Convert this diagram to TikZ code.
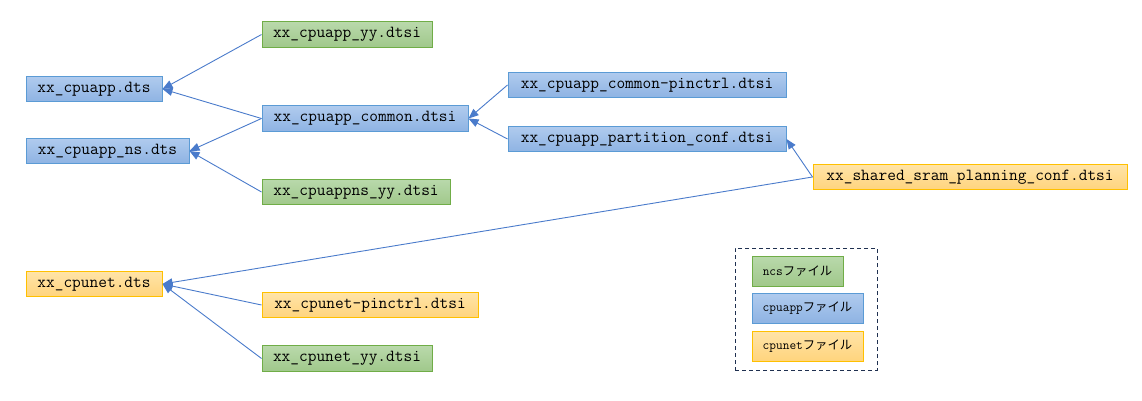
\documentclass[tikz,border=0pt]{standalone}
\usepackage{fontspec}
\newfontfamily\jpfont{Noto Sans CJK JP}[Scale=0.95]
\usetikzlibrary{arrows.meta}
\definecolor{bluebd}{HTML}{5B9BD5}
\definecolor{bluetop}{HTML}{B0CBEE}
\definecolor{bluebot}{HTML}{8EB3E3}
\definecolor{greenbd}{HTML}{70AD47}
\definecolor{greentop}{HTML}{B9D9AB}
\definecolor{greenbot}{HTML}{A0C88B}
\definecolor{yellbd}{HTML}{FFC000}
\definecolor{yelltop}{HTML}{FFE4A8}
\definecolor{yellbot}{HTML}{FFD47D}
\definecolor{linec}{HTML}{4A7BCB}
\definecolor{dashc}{HTML}{1F3050}
\tikzset{
  filebox/.style={draw, line width=1pt, minimum height=25.5pt, inner sep=0pt,
    font=\fontsize{16.9}{18}\selectfont\ttfamily, text=black},
  appbox/.style={filebox, draw=bluebd, top color=bluetop, bottom color=bluebot},
  ncsbox/.style={filebox, draw=greenbd, top color=greentop, bottom color=greenbot},
  netbox/.style={filebox, draw=yellbd, top color=yelltop, bottom color=yellbot},
  legbox/.style={minimum height=30pt, font=\fontsize{13}{14}\selectfont\ttfamily},
  arr/.style={draw=linec, line width=0.9pt, -{Triangle[length=10pt,width=8pt]}},
}
\begin{document}
\begin{tikzpicture}[x=1pt,y=-1pt]
\useasboundingbox (0,0) rectangle (1142,401);
% left column
\node[appbox, minimum width=136pt] (cpuapp) at (94,89) {xx\_cpuapp.dts};
\node[appbox, minimum width=163pt] (cpuappns) at (107.5,151) {xx\_cpuapp\_ns.dts};
\node[netbox, minimum width=136pt] (cpunet) at (94,284) {xx\_cpunet.dts};
% middle column
\node[ncsbox, minimum width=170pt] (appyy) at (347,34.5) {xx\_cpuapp\_yy.dtsi};
\node[appbox, minimum width=206pt] (common) at (365,118.5) {xx\_cpuapp\_common.dtsi};
\node[ncsbox, minimum width=188pt] (appnsyy) at (356,192) {xx\_cpuappns\_yy.dtsi};
\node[netbox, minimum width=216pt] (netpin) at (370,305) {xx\_cpunet-pinctrl.dtsi};
\node[ncsbox, minimum width=170pt] (netyy) at (347,358.5) {xx\_cpunet\_yy.dtsi};
% right column
\node[appbox, minimum width=278pt] (pinctrl) at (647,85) {xx\_cpuapp\_common-pinctrl.dtsi};
\node[appbox, minimum width=278pt] (partition) at (647,139) {xx\_cpuapp\_partition\_conf.dtsi};
\node[netbox, minimum width=314pt] (shared) at (970,177) {xx\_shared\_sram\_planning\_conf.dtsi};
% legend
\node[draw=dashc, line width=1pt, dash pattern=on 4pt off 3pt, minimum width=142pt, minimum height=122pt, inner sep=0pt] (legend) at (806,309) {};
\node[ncsbox, legbox, minimum width=91pt] (lgncs) at (797.5,271) {ncs{\jpfont ファイル}};
\node[appbox, legbox, minimum width=111pt] (lgapp) at (807.5,308) {cpuapp{\jpfont ファイル}};
\node[netbox, legbox, minimum width=111pt] (lgnet) at (807.5,346) {cpunet{\jpfont ファイル}};
% connectors
\draw[arr] (appyy.west) -- (cpuapp.east);
\draw[arr] (common.west) -- (cpuapp.east);
\draw[arr] (common.west) -- (cpuappns.east);
\draw[arr] (appnsyy.west) -- (cpuappns.east);
\draw[arr] (pinctrl.west) -- (common.east);
\draw[arr] (partition.west) -- (common.east);
\draw[arr] (shared.west) -- (partition.east);
\draw[arr] (shared.west) -- (cpunet.east);
\draw[arr] (netpin.west) -- (cpunet.east);
\draw[arr] (netyy.west) -- (cpunet.east);
\end{tikzpicture}
\end{document}
